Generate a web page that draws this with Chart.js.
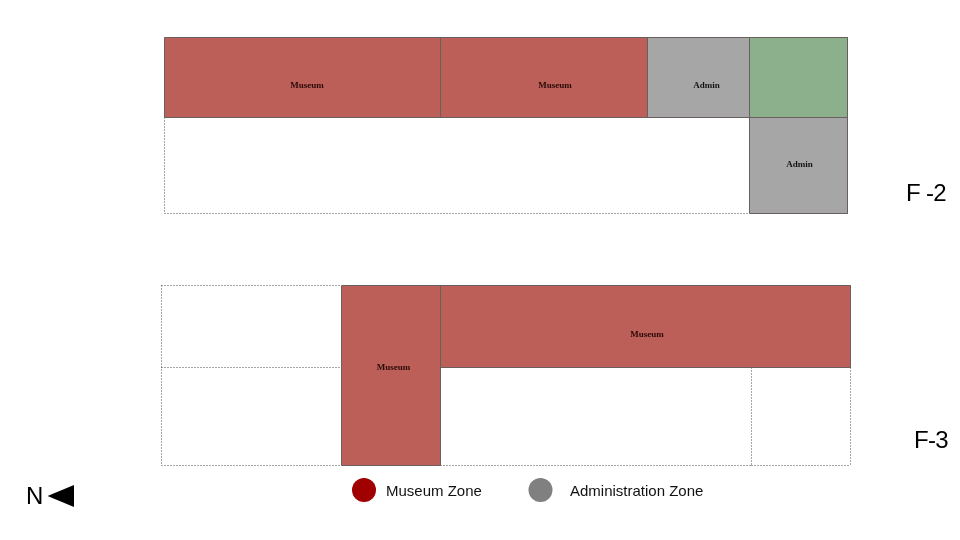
<!DOCTYPE html>
<html>
<head>
<meta charset="utf-8">
<title>Floor plan F-2 / F-3</title>
<style>
    html, body { margin: 0; padding: 0; background: #fff; }
    canvas { display: block; }
</style>
<script src="https://cdn.jsdelivr.net/npm/chart.js@4"></script>
</head>
<body>
<canvas id="chart" width="960" height="540"></canvas>
<script>
// plan is read in picture units: 960 wide, 540 high, y running downwards
const roomLeft   = [164.5, 440.5, 647.5, 749.5, 749.5, 341.5, 440.5];
const roomRight  = [440.5, 647.5, 749.5, 847.5, 847.5, 440.5, 850.5];
const roomTop    = [37.5, 37.5, 37.5, 37.5, 117.5, 285.5, 285.5];
const roomBottom = [117.5, 117.5, 117.5, 117.5, 213.5, 465.5, 367.5];
const roomZone   = [`museum`, `museum`, `admin`, `green`, `admin`, `museum`, `museum`];
const roomLabels = [`Museum`, `Museum`, `Admin`, ``, `Admin`, `Museum`, `Museum`];
const labelX     = [307, 555, 706.5, 799, 799.5, 393.5, 647];
const labelY     = [86, 86, 86, 86, 165, 368, 335];

// walls of the unused rooms, dotted, each drawn once
const wallX1 = [164.5, 164.5, 161.5, 161.5, 161.5, 161.5, 440.5, 751.5, 751.5, 850.5];
const wallX2 = [164.5, 749.5, 341.5, 161.5, 341.5, 341.5, 751.5, 850.5, 751.5, 850.5];
const wallY1 = [117.5, 213.5, 285.5, 285.5, 367.5, 465.5, 465.5, 465.5, 367.5, 367.5];
const wallY2 = [213.5, 213.5, 285.5, 465.5, 367.5, 465.5, 465.5, 465.5, 465.5, 465.5];

const floorLabels = [`F -2`, `F-3`];
const floorX = [906, 914];
const floorY = [194, 441];

const legendLabels = [`Museum Zone`, `Administration Zone`];
const legendDotX = [364, 540.5];
const legendDotY = [490, 490];
const legendTextX = [386, 570];
const legendTextY = [491.5, 491.5];
const legendColors = [`#a00000`, `#808080`];

const northLabel = `N`;
const northX = 26;
const northY = 497;
const arrowX = [47.5, 74];
const arrowTopY = [496, 485];
const arrowBottomY = [496, 507];

const zoneColors = { museum: `#bc5f58`, admin: `#a6a6a6`, green: `#8cb08c` };
const zoneTextColors = { museum: `#2b0a08`, admin: `#141414`, green: `#141414` };

function outline(left, right, top, bottom) {
    return [
        { x: left, y: top }, { x: right, y: top }, { x: right, y: bottom },
        { x: left, y: bottom }, { x: left, y: top }
    ];
}

const datasets = [];

roomLeft.forEach((left, i) => {
    datasets.push({
        label: `room edge ${i}`,
        data: outline(left, roomRight[i], roomTop[i], roomBottom[i]),
        showLine: true,
        borderColor: `#6a5f5f`,
        borderWidth: 1,
        pointRadius: 0
    });
});

roomLeft.forEach((left, i) => {
    datasets.push({
        label: `room ${i}`,
        data: [{ x: left, y: roomTop[i] }, { x: roomRight[i], y: roomTop[i] }],
        showLine: true,
        borderWidth: 0,
        pointRadius: 0,
        backgroundColor: zoneColors[roomZone[i]],
        fill: { target: { value: roomBottom[i] } }
    });
});

wallX1.forEach((x1, i) => {
    datasets.push({
        label: `wall ${i}`,
        data: [{ x: x1, y: wallY1[i] }, { x: wallX2[i], y: wallY2[i] }],
        showLine: true,
        borderColor: `#4a4a4a`,
        borderWidth: 1,
        borderDash: [1, 2],
        borderCapStyle: `butt`,
        pointRadius: 0
    });
});

datasets.push({
    label: `legend dots`,
    data: legendDotX.map((x, i) => ({ x, y: legendDotY[i] })),
    showLine: false,
    pointRadius: 12,
    pointBorderWidth: 0,
    pointBackgroundColor: legendColors
});

[arrowTopY, arrowBottomY].forEach(edge => {
    datasets.push({
        label: `north arrow`,
        data: arrowX.map((x, i) => ({ x, y: edge[i] })),
        showLine: true,
        borderWidth: 0,
        pointRadius: 0,
        backgroundColor: `#000000`,
        fill: { target: { value: edge[0] } }
    });
});

const planText = {
    id: `planText`,
    afterDatasetsDraw(chart) {
        const { ctx, scales: { x, y } } = chart;
        const put = (text, px, py, font, color, align, spacing = `0px`) => {
            ctx.font = font;
            ctx.fillStyle = color;
            ctx.textAlign = align;
            ctx.textBaseline = `middle`;
            ctx.letterSpacing = spacing;
            ctx.fillText(text, x.getPixelForValue(px), y.getPixelForValue(py));
        };
        ctx.save();
        roomLabels.forEach((text, i) => {
            put(text, labelX[i], labelY[i], `bold 9px "Liberation Serif"`, zoneTextColors[roomZone[i]], `center`);
        });
        floorLabels.forEach((text, i) => {
            put(text, floorX[i], floorY[i], `24px "Liberation Sans"`, `#000000`, `left`, `-0.7px`);
        });
        legendLabels.forEach((text, i) => {
            put(text, legendTextX[i], legendTextY[i], `15px "Liberation Sans"`, `#111111`, `left`);
        });
        put(northLabel, northX, northY, `24px "Liberation Sans"`, `#000000`, `left`);
        ctx.restore();
    }
};

new Chart(document.getElementById(`chart`).getContext(`2d`), {
    type: `scatter`,
    data: { datasets },
    options: {
        responsive: false,
        animation: false,
        layout: { padding: 0, autoPadding: false },
        plugins: {
            legend: { display: false },
            tooltip: { enabled: false }
        },
        scales: {
            x: { type: `linear`, min: 0, max: 960, display: false },
            y: { type: `linear`, min: 0, max: 540, reverse: true, display: false }
        }
    },
    plugins: [planText]
});
</script>
</body>
</html>
